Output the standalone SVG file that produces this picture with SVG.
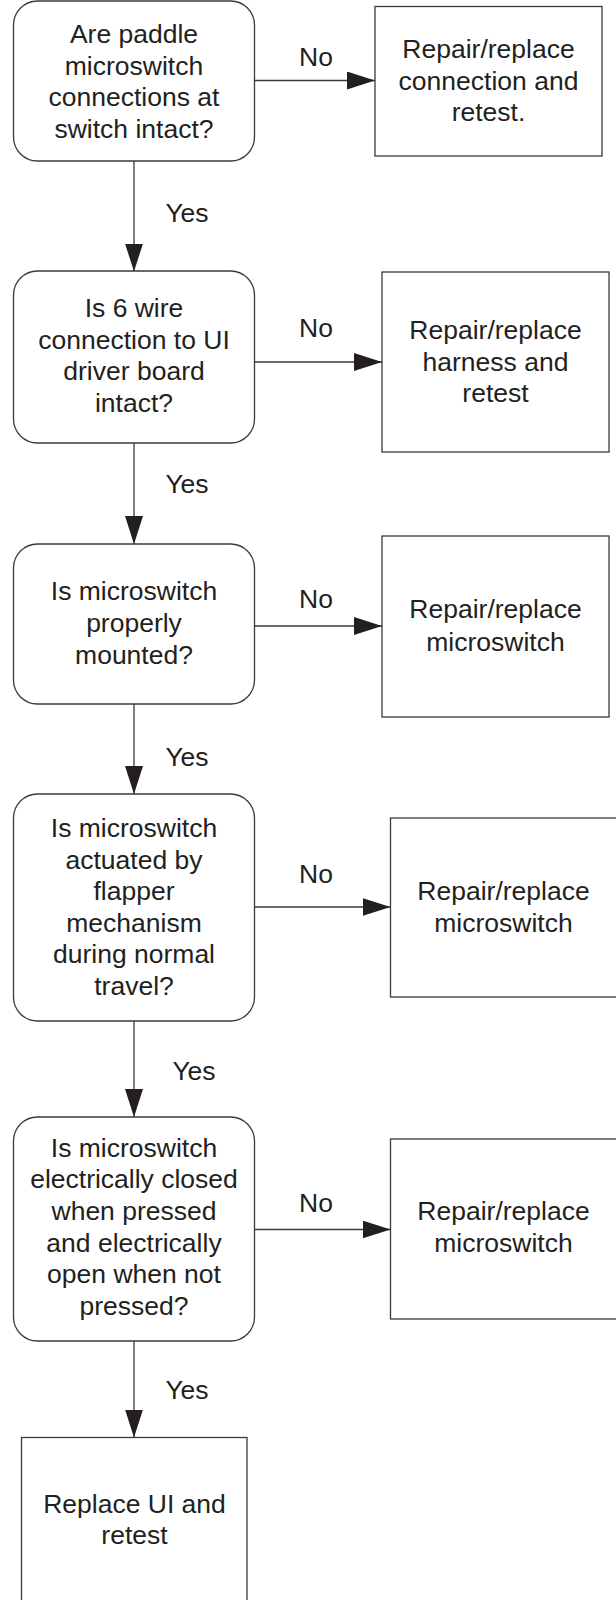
<svg xmlns="http://www.w3.org/2000/svg" width="616" height="1600" viewBox="0 0 616 1600">
<style>
.n{fill:#fff;stroke:#3a3a3a;stroke-width:1.3}
.t{font-family:"Liberation Sans",Arial,sans-serif;font-size:26.5px;fill:#231f20;text-anchor:middle}
.c{stroke:#3a3a3a;stroke-width:1.3;fill:none}
</style>
<defs>
<marker id="arr" markerWidth="28" markerHeight="18" refX="28" refY="9" orient="auto" markerUnits="userSpaceOnUse">
<path d="M0,0 L28,9 L0,18 z" fill="#231f20"/>
</marker>
</defs>
<rect width="616" height="1600" fill="#fff"/>
<g id="connectors">
<line class="c" x1="254.5" y1="80.5" x2="375" y2="80.5" marker-end="url(#arr)"/>
<line class="c" x1="134" y1="161" x2="134" y2="271.5" marker-end="url(#arr)"/>
<line class="c" x1="254.5" y1="362" x2="382" y2="362" marker-end="url(#arr)"/>
<line class="c" x1="134" y1="443" x2="134" y2="544" marker-end="url(#arr)"/>
<line class="c" x1="254.5" y1="626" x2="382" y2="626" marker-end="url(#arr)"/>
<line class="c" x1="134" y1="704" x2="134" y2="794" marker-end="url(#arr)"/>
<line class="c" x1="254.5" y1="907" x2="390.5" y2="907" marker-end="url(#arr)"/>
<line class="c" x1="134" y1="1021" x2="134" y2="1117" marker-end="url(#arr)"/>
<line class="c" x1="254.5" y1="1229.5" x2="390.5" y2="1229.5" marker-end="url(#arr)"/>
<line class="c" x1="134" y1="1341" x2="134" y2="1437.5" marker-end="url(#arr)"/>
<text class="t" x="316" y="66">No</text>
<text class="t" x="316" y="337">No</text>
<text class="t" x="316" y="608">No</text>
<text class="t" x="316" y="883">No</text>
<text class="t" x="316" y="1212">No</text>
<text class="t" x="187" y="222">Yes</text>
<text class="t" x="187" y="493">Yes</text>
<text class="t" x="187" y="766">Yes</text>
<text class="t" x="194" y="1080">Yes</text>
<text class="t" x="187" y="1399">Yes</text>
</g>
<g id="d1">
<rect class="n" x="13.5" y="1" width="241" height="160" rx="24" ry="24"/>
<text class="t" x="134" y="43.3">Are paddle</text>
<text class="t" x="134" y="74.8">microswitch</text>
<text class="t" x="134" y="106.3">connections at</text>
<text class="t" x="134" y="137.8">switch intact?</text>
</g>
<g id="b1">
<rect class="n" x="375" y="6.5" width="227" height="149.5"/>
<text class="t" x="488.5" y="58.3">Repair/replace</text>
<text class="t" x="488.5" y="89.5">connection and</text>
<text class="t" x="488.5" y="120.7">retest.</text>
</g>
<g id="d2">
<rect class="n" x="13.5" y="271" width="241" height="172" rx="24" ry="24"/>
<text class="t" x="134" y="317">Is 6 wire</text>
<text class="t" x="134" y="348.6">connection to UI</text>
<text class="t" x="134" y="380.2">driver board</text>
<text class="t" x="134" y="411.8">intact?</text>
</g>
<g id="b2">
<rect class="n" x="382" y="272" width="227" height="180"/>
<text class="t" x="495.5" y="339">Repair/replace</text>
<text class="t" x="495.5" y="370.5">harness and</text>
<text class="t" x="495.5" y="402">retest</text>
</g>
<g id="d3">
<rect class="n" x="13.5" y="544" width="241" height="160" rx="24" ry="24"/>
<text class="t" x="134" y="600">Is microswitch</text>
<text class="t" x="134" y="632">properly</text>
<text class="t" x="134" y="664">mounted?</text>
</g>
<g id="b3">
<rect class="n" x="382" y="536" width="227" height="181"/>
<text class="t" x="495.5" y="618">Repair/replace</text>
<text class="t" x="495.5" y="650.5">microswitch</text>
</g>
<g id="d4">
<rect class="n" x="13.5" y="794" width="241" height="227" rx="24" ry="24"/>
<text class="t" x="134" y="837">Is microswitch</text>
<text class="t" x="134" y="868.6">actuated by</text>
<text class="t" x="134" y="900.2">flapper</text>
<text class="t" x="134" y="931.8">mechanism</text>
<text class="t" x="134" y="963.4">during normal</text>
<text class="t" x="134" y="995">travel?</text>
</g>
<g id="b4">
<rect class="n" x="390.5" y="818" width="227" height="179"/>
<text class="t" x="503.5" y="900">Repair/replace</text>
<text class="t" x="503.5" y="932">microswitch</text>
</g>
<g id="d5">
<rect class="n" x="13.5" y="1117" width="241" height="224" rx="24" ry="24"/>
<text class="t" x="134" y="1156.5">Is microswitch</text>
<text class="t" x="134" y="1188.2">electrically closed</text>
<text class="t" x="134" y="1219.9">when pressed</text>
<text class="t" x="134" y="1251.6">and electrically</text>
<text class="t" x="134" y="1283.3">open when not</text>
<text class="t" x="134" y="1315">pressed?</text>
</g>
<g id="b5">
<rect class="n" x="390.5" y="1139" width="227" height="180"/>
<text class="t" x="503.5" y="1220">Repair/replace</text>
<text class="t" x="503.5" y="1252">microswitch</text>
</g>
<g id="b6">
<rect class="n" x="21.5" y="1437.5" width="225.5" height="170"/>
<text class="t" x="134.5" y="1513">Replace UI and</text>
<text class="t" x="134.5" y="1544">retest</text>
</g>
</svg>
